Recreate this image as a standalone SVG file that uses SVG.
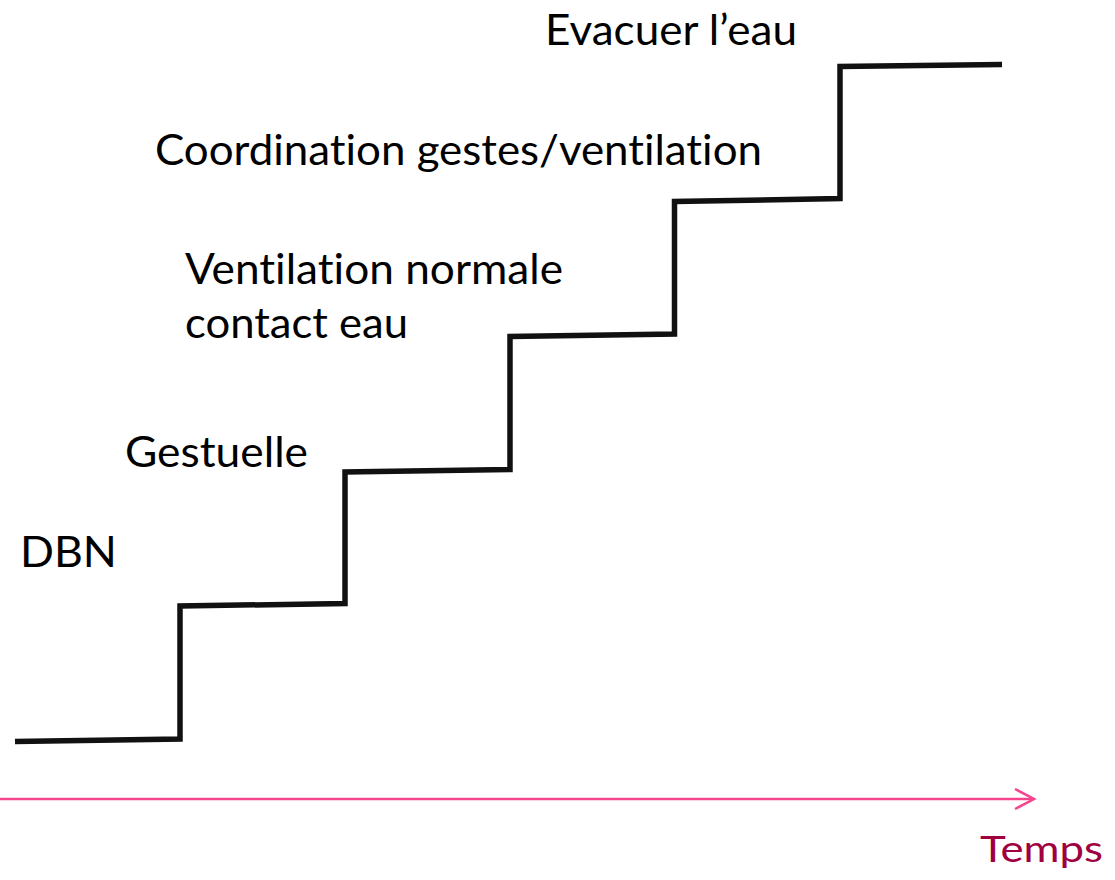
<svg xmlns="http://www.w3.org/2000/svg" width="1115" height="880" viewBox="0 0 1115 880">
  <style>
    .lbl { font-family: Lato, "Liberation Sans", sans-serif; font-size: 42px; fill: #000; font-variant-ligatures: none; }
    .temps { font-family: Lato, "Liberation Sans", sans-serif; font-size: 36px; fill: #A0003F; font-variant-ligatures: none; }
    .stairs { fill: none; stroke: #111; stroke-width: 5.5; stroke-linejoin: miter; stroke-linecap: butt; }
    .axis { fill: none; stroke: #F7448F; stroke-width: 2.5; }
  </style>
  <defs>
    <marker id="open" markerWidth="24" markerHeight="24" refX="20" refY="11" orient="auto" markerUnits="userSpaceOnUse">
      <polyline points="1,1 20,11 1,21" fill="none" stroke="#F7448F" stroke-width="2.5"/>
    </marker>
  </defs>
  <rect width="1115" height="880" fill="#fff"/>
  <g id="connectors">
    <path class="stairs" d="M15,741.5 L180,739 L180,606 L345,603.5 L345,472 L510,469.5 L510,336.5 L674.5,334 L674.5,201.5 L840,198.5 L840,66.5 L1002,64.5"/>
    <line class="axis" x1="0" y1="799" x2="1034" y2="799" marker-end="url(#open)"/>
  </g>
  <g id="node-dbn"><text class="lbl" x="20" y="567" textLength="97" lengthAdjust="spacingAndGlyphs">DBN</text></g>
  <g id="node-gestuelle"><text class="lbl" x="125" y="467" textLength="183" lengthAdjust="spacingAndGlyphs">Gestuelle</text></g>
  <g id="node-ventilation">
    <text class="lbl" x="185" y="284" textLength="378" lengthAdjust="spacingAndGlyphs">Ventilation normale</text>
    <text class="lbl" x="185" y="338" textLength="223" lengthAdjust="spacingAndGlyphs">contact eau</text>
  </g>
  <g id="node-coordination"><text class="lbl" x="155" y="165" textLength="607" lengthAdjust="spacingAndGlyphs">Coordination gestes/ventilation</text></g>
  <g id="node-evacuer"><text class="lbl" x="545" y="45" textLength="252" lengthAdjust="spacingAndGlyphs">Evacuer l’eau</text></g>
  <g id="node-temps"><text class="temps" x="980" y="862" textLength="123" lengthAdjust="spacingAndGlyphs">Temps</text></g>
</svg>
